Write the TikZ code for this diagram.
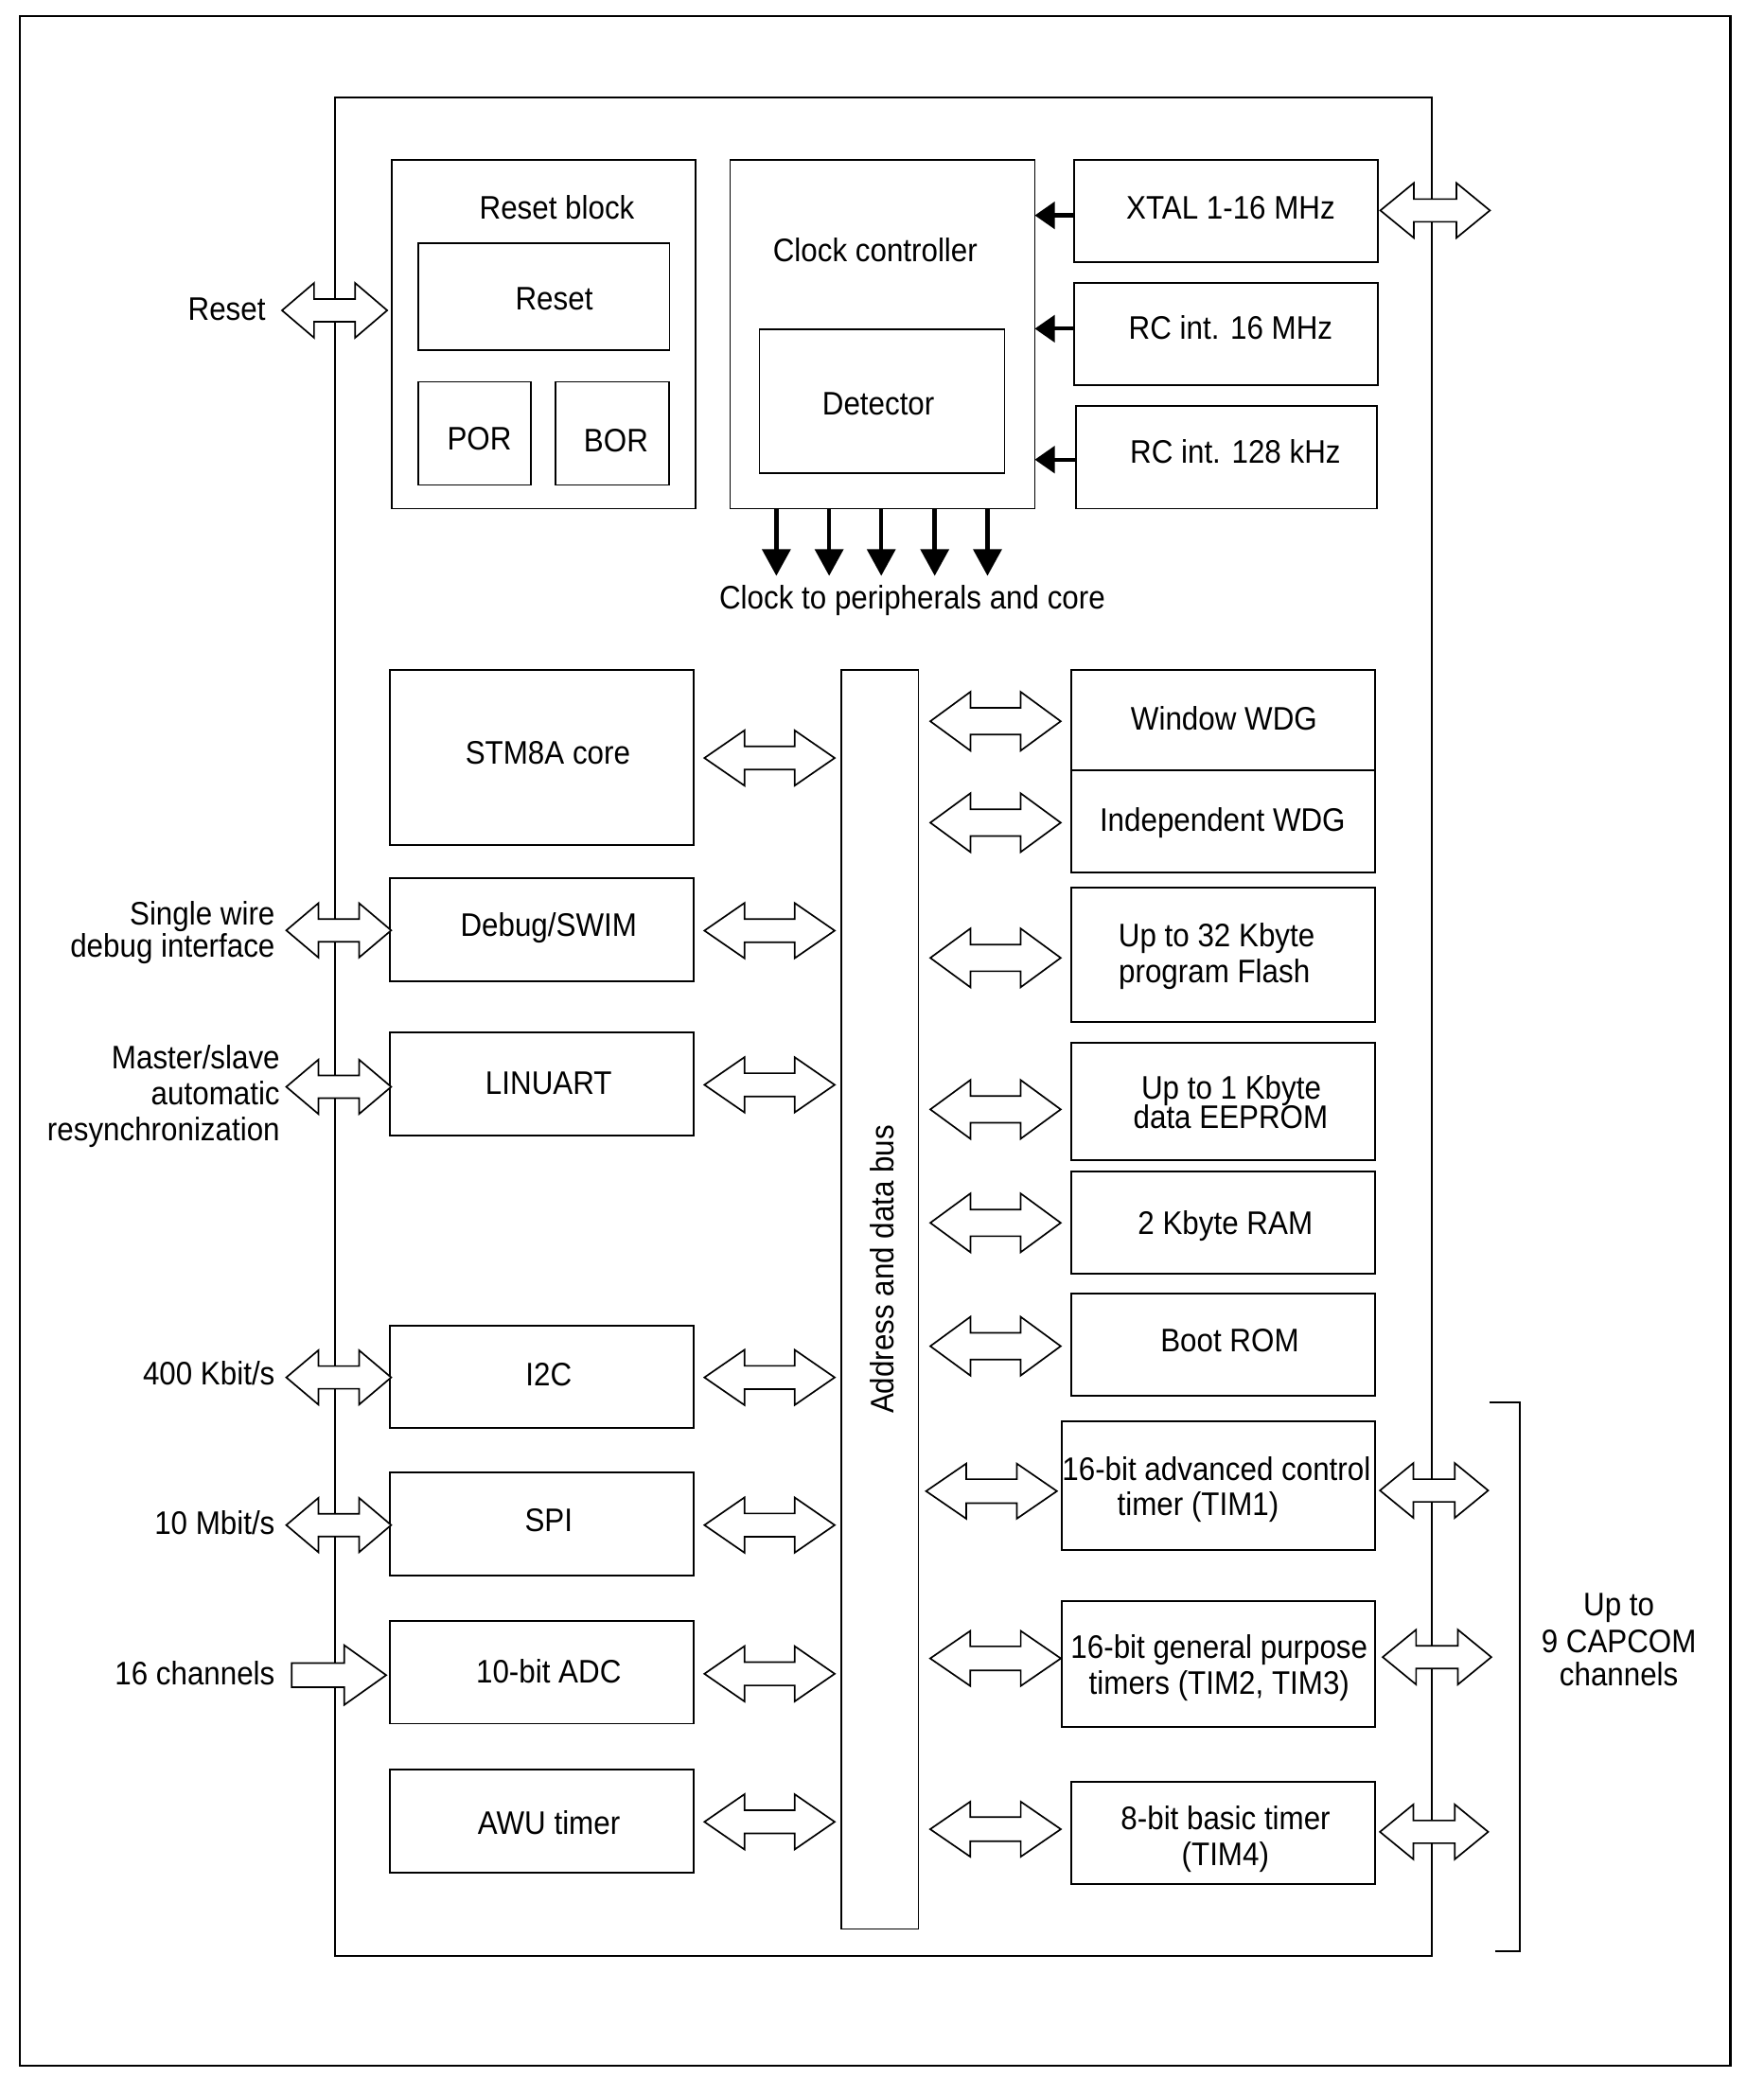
\documentclass[tikz,border=0pt]{standalone}
\usepackage{fontspec}
\setmainfont{Liberation Sans}[FakeStretch=0.91]
\usetikzlibrary{arrows.meta,calc}
\tikzset{
  box/.style={draw, line width=0.65pt, rectangle, inner sep=0pt, outer sep=0pt},
  framebox/.style={draw, line width=0.85pt, rectangle, inner sep=0pt, outer sep=0pt},
  txt/.style={inner sep=0pt, anchor=base, yshift=-4.35pt},
  rtxt/.style={inner sep=0pt, anchor=base east, yshift=-4.35pt},
  bigarrow/.style={draw, fill=white, line width=0.6pt, line join=miter},
  clkarr/.style={line width=1.6pt, -{Triangle[length=10pt,width=10.5pt]}},
  inarr/.style={line width=1.5pt, -{Triangle[length=7.5pt,width=10pt]}},
  brk/.style={line width=0.65pt},
}
% box from corner (x1,y1) to (x2,y2)
\newcommand\blk[6][box]{%
  \pgfmathsetmacro\blkw{(#5-#3)*0.5}%
  \pgfmathsetmacro\blkh{(#6-#4)*0.5}%
  \node[#1, minimum width=\blkw pt, minimum height=\blkh pt] (#2) at ({(#3+#5)/2},{(#4+#6)/2}) {};}
% double block arrow: name, cx, cy, length, head length, half height, half shaft
\newcommand\dbla[7]{%
  \coordinate (#1) at (#2,#3);
  \pgfmathsetmacro\da{#4/2}\pgfmathsetmacro\db{#4-2*#5}\pgfmathsetmacro\dc{#6-#7}%
  \draw[bigarrow] ($(#1)+(-\da,0)$) -- ++(#5,-#6) -- ++(0,\dc) -- ++(\db,0) -- ++(0,-\dc)
     -- ++(#5,#6) -- ++(-#5,#6) -- ++(0,-\dc) -- ++(-\db,0) -- ++(0,\dc) -- cycle;}
\begin{document}
\begin{tikzpicture}[x=0.5pt,y=-0.5pt, font=\fontsize{12.2pt}{14pt}\selectfont]
\useasboundingbox (0,0) rectangle (1319.4,1568.7);
\fill[white] (0,0) rectangle (1319.4,1568.7);
\blk[framebox]{frame}{14.7}{12}{1295}{1546}
\blk{chip}{250.5}{72.7}{1071.5}{1464}

% reset block
\blk{rb}{293}{119.5}{520.5}{380.7}
\blk{rst}{312.8}{181.8}{501}{262}
\blk{por}{312.8}{285.8}{397.4}{363}
\blk{bor}{416}{285.8}{500.5}{363}
\node[txt] (tRB) at (416.8,154.9) {Reset block};
\node[txt] (tRst) at (414.7,222.9) {Reset};
\node[txt] (tPor) at (358.7,328.2) {POR};
\node[txt] (tBor) at (461,329.7) {BOR};

% clock controller
\blk{cc}{546.4}{119.5}{774.4}{380.7}
\blk{det}{568.3}{246.3}{751.8}{354.1}
\node[txt] (tCC) at (655,187) {Clock controller};
\node[txt] (tDet) at (657.3,302) {Detector};

\blk{xtal}{804}{119.5}{1031.4}{196}
\blk{rc16}{804}{211.8}{1031.4}{288.3}
\blk{rc128}{805.3}{304.1}{1030.2}{380.7}
\node[txt] (tXtal) at (921,154.9) {XTAL 1-16 MHz};
\node[txt] (tRc16) at (921,245) {RC int. 16 MHz};
\node[txt] (tRc128) at (924.5,337.7) {RC int. 128 kHz};

\coordinate (yx) at (0,161.2);
\coordinate (yr1) at (0,246);
\coordinate (yr2) at (0,344);
\draw[inarr] (xtal.west |- yx) -- (cc.east |- yx);
\draw[inarr] (rc16.west |- yr1) -- (cc.east |- yr1);
\draw[inarr] (rc128.west |- yr2) -- (cc.east |- yr2);

\coordinate (ck1) at (581,431);
\coordinate (ck2) at (620.5,431);
\coordinate (ck3) at (659.5,431);
\coordinate (ck4) at (699.5,431);
\coordinate (ck5) at (739,431);
\foreach \c in {ck1,ck2,ck3,ck4,ck5} \draw[clkarr] (cc.south -| \c) -- (\c);
\node[txt] (tClk) at (682.7,446.7) {Clock to peripherals and core};

% left column
\blk{core}{291.6}{501.2}{519.3}{632.4}
\blk{dbg}{291.6}{657.2}{519.3}{734.2}
\blk{uart}{291.6}{772.9}{519.3}{849.9}
\blk{i2c}{291.6}{992.3}{519.3}{1068.7}
\blk{spi}{291.6}{1102}{519.3}{1179.2}
\blk{adc}{291.6}{1213.4}{519.3}{1290}
\blk{awu}{291.6}{1324.6}{519.3}{1401.6}
\node[txt] (tCore) at (410,563) {STM8A core};
\node[txt] (tDbg) at (410.6,692.3) {Debug/SWIM};
\node[txt] (tUart) at (410.6,810.2) {LINUART};
\node[txt] (tI2c) at (410.6,1028.8) {I2C};
\node[txt] (tSpi) at (410.6,1137.4) {SPI};
\node[txt] (tAdc) at (410.6,1251.2) {10-bit ADC};
\node[txt] (tAwu) at (410.8,1364.3) {AWU timer};

% bus
\blk{bus}{629.4}{501.2}{687.3}{1443.7}
\node[rotate=90, inner sep=0pt] (tBus) at (660,950) {Address and data bus};

% right column
\blk{wwdg}{801.8}{501.2}{1029}{576.3}
\blk{iwdg}{801.8}{576.3}{1029}{652.9}
\blk{flash}{801.8}{664.5}{1029}{764.9}
\blk{eeprom}{801.8}{780.5}{1029}{868.3}
\blk{ram}{801.8}{877}{1029}{953.5}
\blk{boot}{801.8}{968.4}{1029}{1044.9}
\blk{tim1}{794.8}{1063.7}{1028.8}{1160}
\blk{tim2}{794.8}{1198.1}{1028.8}{1292.4}
\blk{tim4}{801.4}{1333.3}{1028.8}{1410.2}
\node[txt] (tWwdg) at (916,537.7) {Window WDG};
\node[txt] (tIwdg) at (914.9,613.5) {Independent WDG};
\node[txt] (tFl1) at (910.5,700) {Up to 32 Kbyte};
\node[txt] (tFl2) at (908.8,727) {program Flash};
\node[txt] (tEe1) at (921.4,813.7) {Up to 1 Kbyte};
\node[txt] (tEe2) at (921,836) {data EEPROM};
\node[txt] (tRam) at (917,914.9) {2 Kbyte RAM};
\node[txt] (tBoot) at (920.3,1003) {Boot ROM};
\node[txt] (tT1a) at (910.3,1099.4) {16-bit advanced control};
\node[txt] (tT1b) at (896.6,1125.2) {timer (TIM1)};
\node[txt] (tT2a) at (912.4,1232.7) {16-bit general purpose};
\node[txt] (tT2b) at (912.4,1259.2) {timers (TIM2, TIM3)};
\node[txt] (tT4a) at (917.2,1360.5) {8-bit basic timer};
\node[txt] (tT4b) at (917,1387.4) {(TIM4)};

% capcom bracket
\coordinate (bk1) at (1114.4,1049.3);
\coordinate (bk2) at (1137.4,1049.3);
\coordinate (bk3) at (1137.4,1460.3);
\coordinate (bk4) at (1118.8,1460.3);
\draw[brk] (bk1) -- (bk2) -- (bk3) -- (bk4);
\node[txt] (tCap1) at (1211.5,1200.3) {Up to};
\node[txt] (tCap2) at (1211.5,1228.3) {9 CAPCOM};
\node[txt] (tCap3) at (1211.5,1253) {channels};

% left labels
\node[rtxt] (lRst) at (199.1,230.8) {Reset};
\node[rtxt] (lSw1) at (206.1,683.4) {Single wire};
\node[rtxt] (lSw2) at (206.1,707.7) {debug interface};
\node[rtxt] (lMs1) at (209.8,791.1) {Master/slave};
\node[rtxt] (lMs2) at (209.8,817.9) {automatic};
\node[rtxt] (lMs3) at (209.8,844.7) {resynchronization};
\node[rtxt] (l400) at (206.1,1027.7) {400 Kbit/s};
\node[rtxt] (l10) at (206.1,1139.9) {10 Mbit/s};
\node[rtxt] (l16) at (206.1,1252) {16 channels};

% border arrows (left)
\dbla{aReset}{250.4}{232.3}{78.7}{24}{20.5}{8.5}
\dbla{aDbgL}{253.5}{696.3}{78.5}{24}{20.3}{8.5}
\dbla{aUartL}{253.5}{813.4}{78.5}{24}{20.3}{8.5}
\dbla{aI2cL}{253.5}{1030.9}{78.5}{24}{20.3}{8.5}
\dbla{aSpiL}{253.5}{1141.4}{78.5}{24}{20.3}{8.5}
\coordinate (aAdcL) at (253.6,1253.7);
\draw[bigarrow] ($(aAdcL)+(-35.3,-9)$) -- ++(39.3,0) -- ++(0,-13.4) -- ($(adc.west |- aAdcL)+(-2.6,0)$)
   -- ($(aAdcL)+(4,22.3)$) -- ++(0,-13.3) -- ++(-39.3,0) -- cycle;

% left bus arrows
\dbla{bCore}{575.9}{567.3}{97.5}{30}{20.7}{8.7}
\dbla{bDbg}{575.9}{696.5}{97.5}{30}{20.7}{8.7}
\dbla{bUart}{575.9}{811.9}{97.5}{30}{20.7}{8.7}
\dbla{bI2c}{575.9}{1030.9}{97.5}{30}{20.7}{8.7}
\dbla{bSpi}{575.9}{1141.4}{97.5}{30}{20.7}{8.7}
\dbla{bAdc}{575.9}{1252.7}{97.5}{30}{20.7}{8.7}
\dbla{bAwu}{575.9}{1363.5}{97.5}{30}{20.7}{8.7}

% right bus arrows
\dbla{cWwdg}{745}{539.8}{97.6}{30}{22}{10}
\dbla{cIwdg}{745}{615.7}{97.6}{30}{22}{10}
\dbla{cFlash}{745}{716.9}{97.6}{30}{22}{10}
\dbla{cEe}{745}{830.3}{97.6}{30}{22}{10}
\dbla{cRam}{745}{915.2}{97.6}{30}{22}{10}
\dbla{cBoot}{745}{1007.5}{97.6}{30}{22}{10}
\dbla{cT1}{742}{1116}{97.9}{30}{20.6}{9}
\dbla{cT2}{745}{1241.2}{97.8}{30}{20.6}{9}
\dbla{cT4}{745}{1369}{97.8}{30}{20.6}{9}

% border arrows (right)
\dbla{dXtal}{1074}{157.5}{82}{25}{20.5}{8.5}
\dbla{dT1}{1073.2}{1115.5}{81}{25}{20.5}{8.5}
\dbla{dT2}{1075.4}{1240.2}{81.3}{25}{20.5}{8.5}
\dbla{dT4}{1073.2}{1371}{81}{25}{20.5}{8.5}
\end{tikzpicture}
\end{document}
